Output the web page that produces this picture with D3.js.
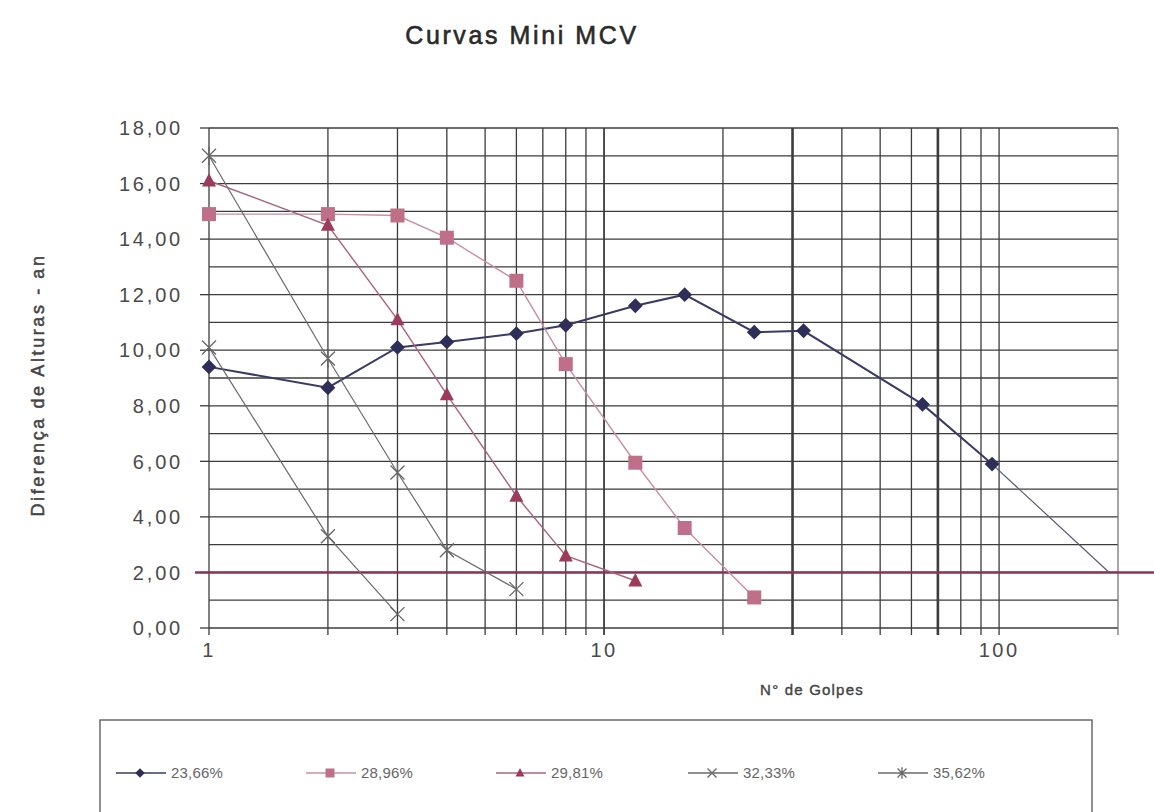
<!DOCTYPE html>
<html>
<head>
<meta charset="utf-8">
<title>Curvas Mini MCV</title>
<script src="https://d3js.org/d3.v7.min.js"></script>
<style>
  * { margin: 0; padding: 0; }
  body { background: #fff; width: 1154px; height: 812px; overflow: hidden; }
  svg { font-family: "Liberation Sans", Arial, sans-serif; }
</style>
</head>
<body>
<div id="chart"></div>
<script>
// data
const seriesNames = ["23,66%", "28,96%", "29,81%", "32,33%", "35,62%"];
const golpes2366 = [1, 2, 3, 4, 6, 8, 12, 16, 24, 32, 64, 96];
const an2366 = [9.4, 8.65, 10.1, 10.3, 10.6, 10.9, 11.6, 12.0, 10.65, 10.7, 8.05, 5.9];
const ext2366 = [[96, 5.9], [190, 2.0]];   // line carried on to an = 2
const golpes2896 = [1, 2, 3, 4, 6, 8, 12, 16, 24];
const an2896 = [14.9, 14.9, 14.85, 14.05, 12.5, 9.5, 5.95, 3.6, 1.1];
const golpes2981 = [1, 2, 3, 4, 6, 8, 12];
const an2981 = [16.1, 14.5, 11.1, 8.4, 4.75, 2.6, 1.7];
const golpes3233 = [1, 2, 3];
const an3233 = [10.1, 3.3, 0.5];
const golpes3562 = [1, 2, 3, 4, 6];
const an3562 = [17.0, 9.7, 5.6, 2.8, 1.4];
const yTicks = [0, 2, 4, 6, 8, 10, 12, 14, 16, 18];
const xTicks = [1, 10, 100];
const refLine = 2;

const W = 1154, H = 812;
const m = { left: 209, right: 1118, top: 128, bottom: 628 };

const svg = d3.select("#chart").append("svg").attr("width", W).attr("height", H);

const x = d3.scaleLog().domain([1, 200]).range([m.left, m.right]);
const y = d3.scaleLinear().domain([0, 18]).range([m.bottom, m.top]);

const gridColor = "#3c3c3c";

// horizontal grid, every unit
svg.append("g").selectAll("line").data(d3.range(0, 19)).join("line")
  .attr("x1", m.left).attr("x2", m.right)
  .attr("y1", d => y(d)).attr("y2", d => y(d))
  .attr("stroke", gridColor).attr("stroke-width", 1.3);

// vertical grid on the log decades
const xGrid = [];
[1, 10, 100].forEach(dec => { for (let k = 1; k < 10; k++) if (dec * k <= 100) xGrid.push(dec * k); });
svg.append("g").selectAll("line").data(xGrid).join("line")
  .attr("x1", d => x(d)).attr("x2", d => x(d))
  .attr("y1", m.top).attr("y2", m.bottom + 7)
  .attr("stroke", gridColor)
  .attr("stroke-width", d => (d === 30 || d === 70) ? 2.6 : (d === 10 ? 1.8 : 1.3));
svg.append("line")
  .attr("x1", m.right).attr("x2", m.right).attr("y1", m.top).attr("y2", m.bottom + 7)
  .attr("stroke", "#777").attr("stroke-width", 1.3);

// y ticks and labels
svg.append("g").selectAll("line").data(yTicks).join("line")
  .attr("x1", m.left - 9).attr("x2", m.left)
  .attr("y1", d => y(d)).attr("y2", d => y(d))
  .attr("stroke", gridColor).attr("stroke-width", 1.3);
svg.append("g").selectAll("text").data(yTicks).join("text")
  .attr("x", 183).attr("y", d => y(d)).attr("dy", "0.36em")
  .attr("text-anchor", "end")
  .attr("font-size", 20).attr("letter-spacing", 2.8).attr("fill", "#4a4a4a")
  .text(d => d3.format(".2f")(d).replace(".", ","));

// x labels
svg.append("g").selectAll("text").data(xTicks).join("text")
  .attr("x", d => x(d)).attr("y", 657)
  .attr("text-anchor", "middle")
  .attr("font-size", 20).attr("letter-spacing", 2.5).attr("fill", "#4a4a4a")
  .text(d => d);

// reference line at an = 2
svg.append("line")
  .attr("x1", 195).attr("x2", W).attr("y1", y(refLine)).attr("y2", y(refLine))
  .attr("stroke", "#8a3550").attr("stroke-width", 2.4);

// series
const series = [
  { name: seriesNames[0], xs: golpes2366, ys: an2366, line: "#3a3a66", mark: "#2e2e58", lw: 2, sym: "diamond" },
  { name: seriesNames[1], xs: golpes2896, ys: an2896, line: "#c890a2", mark: "#bf7088", lw: 1.4, sym: "square" },
  { name: seriesNames[2], xs: golpes2981, ys: an2981, line: "#a86478", mark: "#9c3c5a", lw: 1.4, sym: "triangle" },
  { name: seriesNames[3], xs: golpes3233, ys: an3233, line: "#6a6a6a", mark: "#666", lw: 1.2, sym: "cross" },
  { name: seriesNames[4], xs: golpes3562, ys: an3562, line: "#6a6a6a", mark: "#666", lw: 1.2, sym: "star" }
];

const line = d3.line().x(d => x(d[0])).y(d => y(d[1]));

function drawMarker(g, sym, cx, cy, color, r) {
  if (sym === "diamond") {
    g.append("rect").attr("x", -r * 0.75).attr("y", -r * 0.75).attr("width", r * 1.5).attr("height", r * 1.5)
      .attr("transform", `translate(${cx},${cy}) rotate(45)`).attr("fill", color);
  } else if (sym === "square") {
    g.append("rect").attr("x", cx - r).attr("y", cy - r).attr("width", 2 * r).attr("height", 2 * r).attr("fill", color);
  } else if (sym === "triangle") {
    g.append("path").attr("d", `M${cx},${cy - r * 1.1}L${cx + r},${cy + r * 0.8}L${cx - r},${cy + r * 0.8}Z`).attr("fill", color);
  } else if (sym === "cross") {
    g.append("path").attr("d", `M${cx - r},${cy - r}L${cx + r},${cy + r}M${cx - r},${cy + r}L${cx + r},${cy - r}`)
      .attr("stroke", color).attr("stroke-width", 1.3);
  } else {
    g.append("path").attr("d", `M${cx - r},${cy - r}L${cx + r},${cy + r}M${cx - r},${cy + r}L${cx + r},${cy - r}M${cx},${cy - r * 1.3}L${cx},${cy + r * 1.3}`)
      .attr("stroke", color).attr("stroke-width", 1.3);
  }
}

svg.append("path").datum(ext2366).attr("d", line)
  .attr("fill", "none").attr("stroke", "#5a5a70").attr("stroke-width", 1.2);

series.forEach(s => {
  const pts = s.xs.map((v, i) => [v, s.ys[i]]);
  const g = svg.append("g");
  g.append("path").datum(pts).attr("d", line)
    .attr("fill", "none").attr("stroke", s.line).attr("stroke-width", s.lw);
  pts.forEach(p => drawMarker(g, s.sym, x(p[0]), y(p[1]), s.mark, 7));
});

// titles
svg.append("text").attr("x", 522).attr("y", 44).attr("text-anchor", "middle")
  .attr("font-size", 25).attr("letter-spacing", 2.6).attr("fill", "#2a2a2a")
  .attr("stroke", "#2a2a2a").attr("stroke-width", 0.6)
  .text("Curvas Mini MCV");
svg.append("text").attr("transform", "translate(44,385) rotate(-90)").attr("text-anchor", "middle")
  .attr("font-size", 18).attr("letter-spacing", 2.6).attr("fill", "#444")
  .attr("stroke", "#444").attr("stroke-width", 0.5)
  .text("Diferença de Alturas - an");
svg.append("text").attr("x", 812).attr("y", 695).attr("text-anchor", "middle")
  .attr("font-size", 15).attr("letter-spacing", 1.2).attr("fill", "#444")
  .attr("stroke", "#444").attr("stroke-width", 0.4)
  .text("N° de Golpes");

// legend
svg.append("rect").attr("x", 100).attr("y", 720).attr("width", 992).attr("height", 120)
  .attr("fill", "none").attr("stroke", "#555").attr("stroke-width", 1.3);
const legX = [140, 330, 520, 712, 902];
series.forEach((s, i) => {
  const g = svg.append("g");
  const cx = legX[i], cy = 773;
  g.append("line").attr("x1", cx - 24).attr("x2", cx + 26).attr("y1", cy).attr("y2", cy)
    .attr("stroke", s.line).attr("stroke-width", 1.5);
  drawMarker(g, s.sym, cx, cy, s.mark, 4.5);
  g.append("text").attr("x", cx + 31).attr("y", cy).attr("dy", "0.36em")
    .attr("font-size", 15).attr("fill", "#666").attr("letter-spacing", 0.2)
    .text(s.name);
});
</script>
</body>
</html>
